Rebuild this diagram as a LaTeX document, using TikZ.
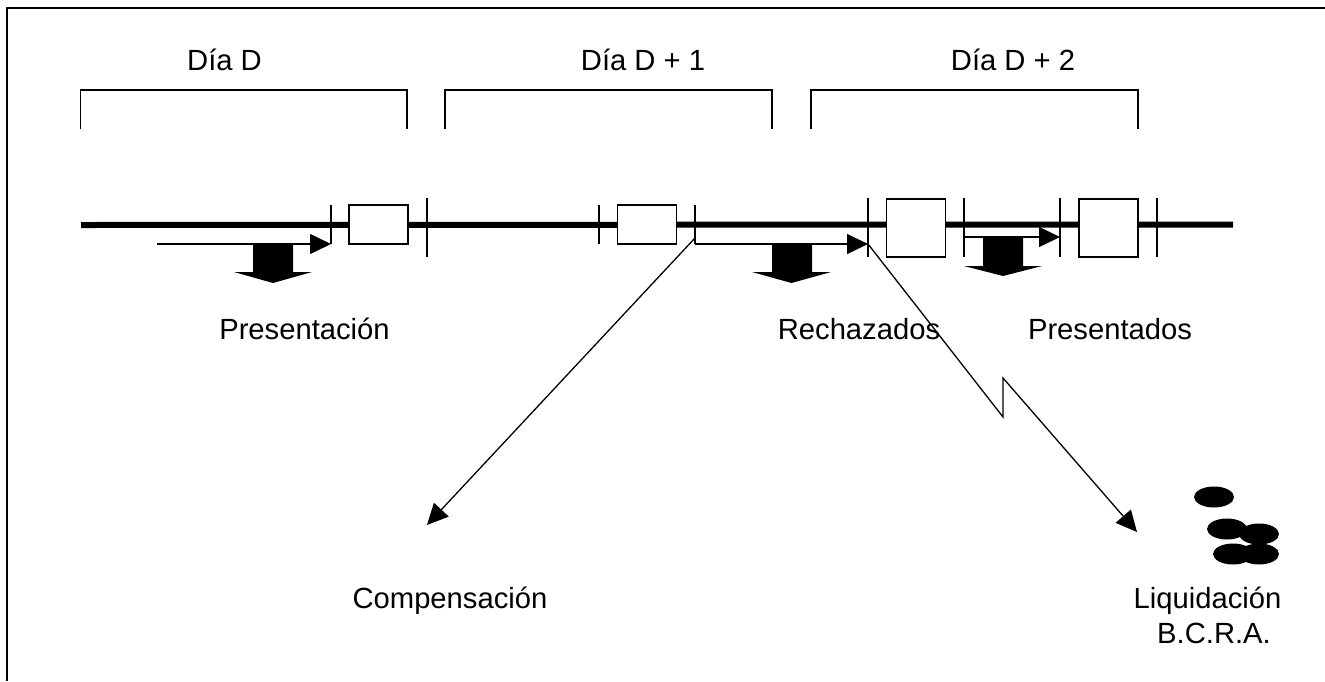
\documentclass[tikz,border=0pt]{standalone}
\usepackage{fontspec}
\setmainfont{Liberation Sans}
\usetikzlibrary{arrows.meta,shapes.geometric}
\tikzset{
  x=1pt,y=-1pt,
  thin line/.style={draw=black,line width=1.3pt},
  frame line/.style={draw=black,line width=2pt},
  axis line/.style={draw=black,line width=6pt},
  tick mark/.style={draw=black,line width=1.4pt},
  slot box/.style={draw=black,fill=white,line width=1.5pt,rectangle,inner sep=0pt,minimum width=59pt,anchor=center},
  flow arrow/.style={draw=black,line width=1.3pt,-{Triangle[length=21pt,width=20pt]}},
  block arrow/.style={fill=black,draw=none},
  coin/.style={ellipse,fill=black,draw=none,inner sep=0pt,minimum width=40pt,minimum height=21pt},
  label text/.style={font=\fontsize{29.2}{33}\selectfont,inner sep=0pt,anchor=base,text=black}
}
\begin{document}
\begin{tikzpicture}
\useasboundingbox (0,0) rectangle (1325,681);
\fill[white] (0,0) rectangle (1325,681);
\draw[frame line] (7,681) -- (7,8) -- (1325,8);
% day brackets
\draw[thin line] (80.5,129) -- (80.5,90) -- (407,90) -- (407,129);
\draw[thin line] (445,129) -- (445,90) -- (772,90) -- (772,129);
\draw[thin line] (811,129) -- (811,90) -- (1138,90) -- (1138,129);
\node[label text] (d0) at (224.5,70) {Día D};
\node[label text] (d1) at (643,70) {Día D + 1};
\node[label text] (d2) at (1013,70) {Día D + 2};
% axis
\coordinate (axisL) at (81,225);
\coordinate (axisR) at (1233,224.5);
\draw[axis line] (axisL) -- (axisR);
% ticks
\coordinate (t1) at (331,205); \draw[tick mark] (t1) -- (331,244);
\coordinate (t2) at (427,198); \draw[tick mark] (t2) -- (427,257);
\coordinate (t3) at (599,205); \draw[tick mark] (t3) -- (599,244);
\coordinate (t4) at (695,205); \draw[tick mark] (t4) -- (695,244);
\coordinate (t5) at (868,198); \draw[tick mark] (t5) -- (868,257);
\coordinate (t6) at (964,198); \draw[tick mark] (t6) -- (964,257);
\coordinate (t7) at (1060,198); \draw[tick mark] (t7) -- (1060,257);
\coordinate (t8) at (1157,198); \draw[tick mark] (t8) -- (1157,257);
% boxes
\node[slot box,minimum height=39pt] (b1) at (378.5,224.5) {};
\node[slot box,minimum height=39pt] (b2) at (647,224.5) {};
\node[slot box,minimum height=58pt] (b3) at (916,228) {};
\node[slot box,minimum height=58pt] (b4) at (1108.5,228) {};
% block arrows
\fill[block arrow] (253,243) -- (293,243) -- (293,272) -- (312,272) -- (273,283) -- (234,272) -- (253,272) -- cycle;
\fill[block arrow] (772,243) -- (812,243) -- (812,272) -- (831,272) -- (791.5,283) -- (752,272) -- (772,272) -- cycle;
\fill[block arrow] (983,237) -- (1023,237) -- (1023,266) -- (1042,266) -- (1003,276) -- (964,266) -- (983,266) -- cycle;
% flow arrows
\coordinate (f1s) at (157,244); \coordinate (f1e) at (331,244);
\draw[flow arrow] (f1s) -- (f1e);
\coordinate (f2s) at (695,244); \coordinate (f2e) at (868,244);
\draw[flow arrow] (f2s) -- (f2e);
\coordinate (f3s) at (964,237); \coordinate (f3e) at (1060,237);
\draw[flow arrow] (f3s) -- (f3e);
% diagonals
\coordinate (compS) at (695,238); \coordinate (compE) at (427,525);
\draw[flow arrow] (compS) -- (compE);
\coordinate (liqS) at (868,244); \coordinate (liqA) at (1003,417); \coordinate (liqB) at (1003,378); \coordinate (liqE) at (1137,532);
\draw[flow arrow] (liqS) -- (liqA) -- (liqB) -- (liqE);
% labels
\node[label text] (pres) at (304.5,339) {Presentación};
\node[label text] (rech) at (859,339) {Rechazados};
\node[label text] (prdo) at (1110,339) {Presentados};
\node[label text] (comp) at (450,608) {Compensación};
\node[label text] (liq) at (1207.5,608) {Liquidación};
\node[label text] (bcra) at (1214,643) {B.C.R.A.};
% coins
\node[coin] (c1) at (1214,497) {};
\node[coin] (c2) at (1227,529) {};
\node[coin] (c3) at (1259,534) {};
\node[coin] (c4) at (1233,554) {};
\node[coin] (c5) at (1259,554) {};
\end{tikzpicture}
\end{document}
